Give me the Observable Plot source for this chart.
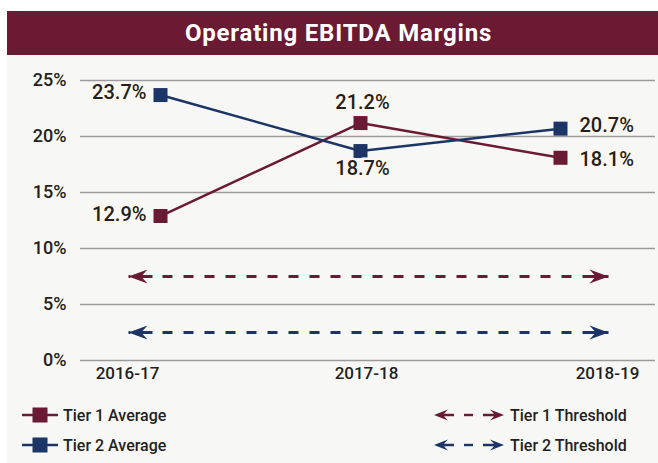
<!DOCTYPE html>
<html>
<head>
<meta charset="utf-8">
<script src="https://cdn.jsdelivr.net/npm/d3@7"></script>
<script src="https://cdn.jsdelivr.net/npm/@observablehq/plot@0.6"></script>
<style>
  html, body { margin: 0; padding: 0; background: #ffffff; }
  body { width: 658px; height: 463px; overflow: hidden; position: relative; font-family: Roboto, "Noto Sans", sans-serif; color: #231f20; }
  #title { position: absolute; left: 7px; top: 11px; width: 651px; height: 44px; background: #6a1a33; color: #ffffff;
           font: 700 24px Roboto, sans-serif; display: flex; align-items: center; justify-content: center; padding-left: 12px; box-sizing: border-box; letter-spacing: 0.8px; }
  #panel { position: absolute; left: 7px; top: 55px; width: 651px; height: 408px; background: #f7f7f5; }
  #chart { position: absolute; left: 0; top: 0; }
  .leg { position: absolute; display: flex; align-items: center; font: 500 16px Roboto, sans-serif; color: #231f20; height: 20px; }
  .leg svg { display: block; margin-right: 5px; }
</style>
</head>
<body>
<div id="title">Operating EBITDA Margins</div>
<div id="panel">
  <div id="chart"></div>
  <div id="legend"></div>
</div>
<script>
// ---- data ----
const years = ["2016-17", "2017-18", "2018-19"];
const seriesNames = ["Tier 1 Average", "Tier 2 Average"];
const tier1Average = [12.9, 21.2, 18.1];
const tier2Average = [23.7, 18.7, 20.7];
const thresholdNames = ["Tier 1 Threshold", "Tier 2 Threshold"];
const thresholdValues = [7.5, 2.5];
const thresholdSpan = [-0.16, 2.24]; // extent of threshold arrows, in category-index units
const yTicks = [0, 5, 10, 15, 20, 25];

// ---- styles ----
const maroon = "#6b1a35";
const navy = "#1c3566";
const seriesColors = [maroon, navy];
const labelLayout = [
  [{anchor: "end", dx: -14, dy: -1}, {anchor: "middle", dx: 2, dy: -20}, {anchor: "start", dx: 19, dy: 2}],
  [{anchor: "end", dx: -14, dy: -2}, {anchor: "middle", dx: 2, dy: 18}, {anchor: "start", dx: 19, dy: -3}]
];
const xLabelDx = [-33, 6, 47];

const series = [tier1Average, tier2Average].map((values, s) => ({name: seriesNames[s], color: seriesColors[s], values}));
const points = series.flatMap((s, si) => s.values.map((v, i) => ({series: s.name, si, i, year: years[i], value: v})));
const thresholds = thresholdNames.map((n, k) => ({name: n, value: thresholdValues[k], color: seriesColors[k], from: thresholdSpan[0], to: thresholdSpan[1]}));

const square = {draw(c) { c.rect(-7, -7, 14, 14); }};
const headRight = {draw(c) {
  c.moveTo(0, 0); c.lineTo(-19, -7); c.lineTo(-14, -1.5); c.lineTo(-24, -1.5); c.lineTo(-24, 1.5); c.lineTo(-14, 1.5); c.lineTo(-19, 7); c.closePath();
}};
const headLeft = {draw(c) {
  c.moveTo(0, 0); c.lineTo(19, -7); c.lineTo(14, -1.5); c.lineTo(24, -1.5); c.lineTo(24, 1.5); c.lineTo(14, 1.5); c.lineTo(19, 7); c.closePath();
}};

const marks = [
  Plot.ruleY(yTicks, {stroke: "#9b9b9b", strokeWidth: 1.5}),
  // threshold dashed arrows
  ...thresholds.map(t => Plot.link([t], {
    x1: d => d.from, x2: d => d.to, y1: "value", y2: "value",
    stroke: t.color, strokeWidth: 3, strokeDasharray: "10,11", strokeDashoffset: -34
  })),
  ...thresholds.map(t => Plot.dot([t], {x: "from", y: "value", symbol: headLeft, fill: t.color, stroke: "none"})),
  ...thresholds.map(t => Plot.dot([t], {x: "to", y: "value", symbol: headRight, fill: t.color, stroke: "none"})),
  // series lines
  ...series.map(s => Plot.line(s.values, {x: (d, i) => i, y: d => d, stroke: s.color, strokeWidth: 2.5})),
  ...series.map(s => Plot.dot(s.values, {x: (d, i) => i, y: d => d, symbol: square, fill: s.color, stroke: "none"})),
  // value labels
  ...points.map(p => {
    const L = labelLayout[p.si][p.i];
    return Plot.text([p], {x: "i", y: "value", text: d => d.value.toFixed(1) + "%", textAnchor: L.anchor, dx: L.dx, dy: L.dy,
      fontSize: 20, fontWeight: 500, fill: "#231f20", stroke: "#fcf7ee", strokeWidth: 5, strokeLinejoin: "miter", paintOrder: "stroke"});
  }),
  // category labels
  ...years.map((y, i) => Plot.text([y], {x: () => i, frameAnchor: "bottom", dy: 18, dx: xLabelDx[i], text: d => d,
    fontSize: 17, fontWeight: 500, fill: "#231f20"}))
];

const chart = Plot.plot({
  width: 651, height: 330,
  marginLeft: 73, marginRight: 3, marginTop: 25, marginBottom: 25,
  style: {background: "transparent", fontFamily: "Roboto, sans-serif", fontSize: "18px", fontWeight: 500, color: "#231f20", overflow: "visible"},
  x: {type: "linear", domain: [-0.4, 2.475], axis: null},
  y: {domain: [0, 25], ticks: yTicks, tickFormat: d => d + "%", tickSize: 0, tickPadding: 14, label: null},
  marks
});
document.getElementById("chart").appendChild(chart);

// ---- legend ----
const legend = document.getElementById("legend");
function lineSwatch(color) {
  return `<svg width="36" height="16"><line x1="0" x2="36" y1="8" y2="8" stroke="${color}" stroke-width="2.5"/><rect x="10.5" y="0.5" width="15" height="15" fill="${color}"/></svg>`;
}
function arrowSwatch(color) {
  return `<svg width="72" height="16"><path d="M1,8L15,2.5L11,6.8L21,6.8L21,9.2L11,9.2L15,13.5Z" fill="${color}"/>` +
    `<rect x="31" y="6.8" width="9" height="2.4" fill="${color}"/>` +
    `<path d="M71,8L57,2.5L61,6.8L50,6.8L50,9.2L61,9.2L57,13.5Z" fill="${color}"/></svg>`;
}
const legItems = [
  {html: lineSwatch(seriesColors[0]) + seriesNames[0], left: 15, top: 350},
  {html: lineSwatch(seriesColors[1]) + seriesNames[1], left: 15, top: 380},
  {html: arrowSwatch(seriesColors[0]) + thresholdNames[0], left: 426, top: 350},
  {html: arrowSwatch(seriesColors[1]) + thresholdNames[1], left: 426, top: 380}
];
for (const it of legItems) {
  const d = document.createElement("div");
  d.className = "leg";
  d.style.left = it.left + "px";
  d.style.top = it.top + "px";
  d.innerHTML = it.html;
  legend.appendChild(d);
}
</script>
</body>
</html>
